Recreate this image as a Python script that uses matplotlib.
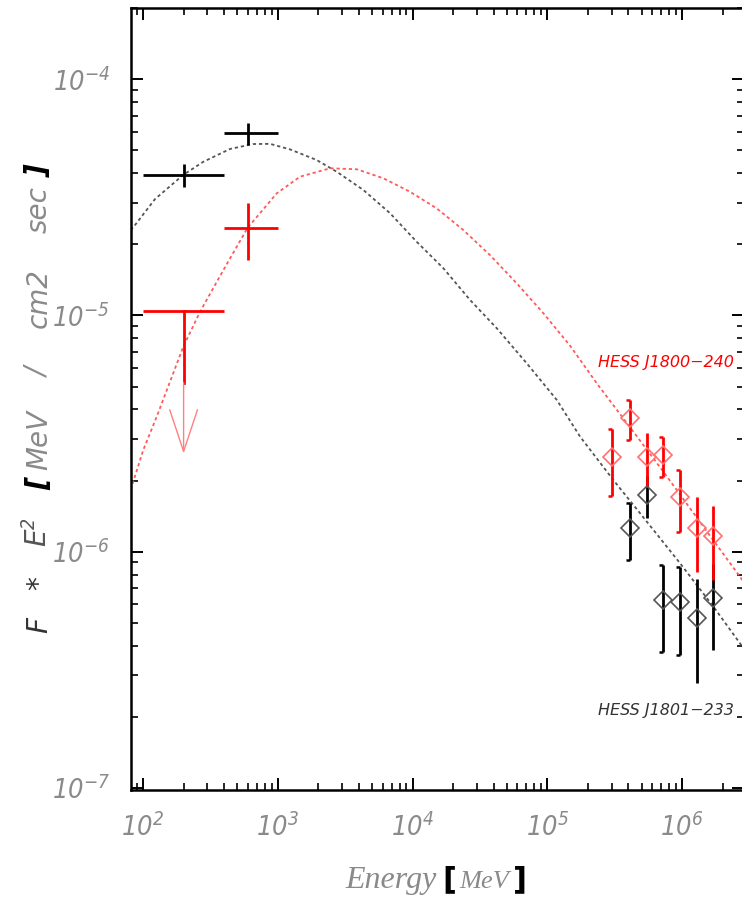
import numpy as np
import matplotlib
matplotlib.use("Agg")
import matplotlib.pyplot as plt
import matplotlib.font_manager as fm
from matplotlib.ft2font import FT2Font
from matplotlib.path import Path
from matplotlib.ticker import LogLocator, FuncFormatter, NullFormatter

# ---------------- data ----------------
# Fermi/LAT-like points (MeV, MeV/cm2/s)
lat_E = [200, 600]
lat_E_lo = [100, 400]
lat_E_hi = [400, 1000]
black_lat_flux = [3.95e-5, 5.9e-5]
black_lat_err = [0.45e-5, 0.65e-5]

red_lat_E = [600]
red_lat_E_lo = [400]
red_lat_E_hi = [1000]
red_lat_flux = [2.35e-5]
red_lat_err = [0.63e-5]

red_ul_E = [200]
red_ul_E_lo = [100]
red_ul_E_hi = [400]
red_ul_flux = [1.04e-5]

# HESS points
hess_E = [3.04e5, 4.11e5, 5.47e5, 7.27e5, 9.66e5, 1.285e6, 1.71e6]
hess_red_flux = [2.52e-6, 3.67e-6, 2.52e-6, 2.57e-6, 1.71e-6, 1.26e-6, 1.16e-6]
hess_red_err = [0.80e-6, 0.70e-6, 0.65e-6, 0.50e-6, 0.50e-6, 0.44e-6, 0.40e-6]
hess_black_E = [4.11e5, 5.47e5, 7.27e5, 9.66e5, 1.285e6, 1.71e6]
hess_black_flux = [1.26e-6, 1.74e-6, 6.25e-7, 6.14e-7, 5.22e-7, 6.35e-7]
hess_black_err = [0.34e-6, 0.35e-6, 2.5e-7, 2.5e-7, 2.45e-7, 2.5e-7]
hess_capped_E = [3.04e5, 4.11e5, 7.27e5, 9.66e5]

# model curves
model_black_E = [81, 87.2, 122.7, 198, 279, 442, 655, 876, 1233, 1946, 2739, 4314,
                 6808, 10745, 16930, 26710, 42150, 70400, 117500, 175000, 309000,
                 547000, 966000, 1.708e6, 2.69e6, 2.88e6]
model_black_F = [2.30e-5, 2.415e-5, 3.11e-5, 3.93e-5, 4.47e-5, 5.07e-5, 5.32e-5, 5.33e-5,
                 5.05e-5, 4.55e-5, 4.06e-5, 3.40e-5, 2.71e-5, 2.05e-5, 1.585e-5,
                 1.163e-5, 8.83e-6, 6.27e-6, 4.39e-6, 3.07e-6, 2.01e-6, 1.34e-6,
                 8.93e-7, 5.85e-7, 4.09e-7, 3.87e-7]
model_red_E = [81, 100.5, 126.4, 199, 265, 418, 598, 982, 1463, 2442, 3854, 6072,
               9580, 15120, 23820, 37590, 59330, 93470, 147500, 232800, 435100,
               726500, 1.708e6, 2.69e6, 2.88e6]
model_red_F = [1.83e-6, 2.70e-6, 3.73e-6, 7.38e-6, 1.038e-5, 1.65e-5, 2.353e-5, 3.29e-5,
               3.87e-5, 4.20e-5, 4.16e-5, 3.81e-5, 3.34e-5, 2.84e-5, 2.30e-5, 1.80e-5,
               1.368e-5, 1.022e-5, 7.45e-6, 5.16e-6, 3.22e-6, 2.18e-6, 1.116e-6,
               7.83e-7, 7.4e-7]

label_red = "HESS J1800\u2212240"
label_black = "HESS J1801\u2212233"

# ---------------- fonts ----------------
entries = fm.fontManager.ttflist
def is_narrow(f):
    return (str(f.stretch) in ("condensed", "semi-condensed", "extra-condensed")
            or "Condensed" in f.name or "Narrow" in f.name)
cands = [f for f in entries if f.style in ("italic", "oblique")
         and "Mono" not in f.name and "CJK" not in f.name and "Serif" not in f.name
         and str(f.weight) in ("400", "normal", "regular", "book")]
narrow = [f for f in cands if is_narrow(f)]
narrow.sort(key=lambda f: ("Liberation" not in f.name, "DejaVu" not in f.name))
lib = [f for f in cands if f.name == "Liberation Sans"]
chosen = narrow[0] if narrow else (lib[0] if lib else None)

if chosen is not None:
    tick_path = chosen.fname
else:
    tick_path = fm.findfont(fm.FontProperties(family="DejaVu Sans", style="italic"))
tick_pattern = fm.FontProperties(fname=tick_path).get_fontconfig_pattern()

# size so that "10" is ~31 px wide
ft = FT2Font(tick_path)
ft.set_size(100, 72)
adv = 0.0
for ch in "10":
    g = ft.load_char(ord(ch))
    adv += g.linearHoriAdvance / 65536.0 / 100.0
tick_size = min(24.0, 31.0 / adv * 72.0 / 100.0)

plt.rcParams["mathtext.fontset"] = "custom"
plt.rcParams["mathtext.rm"] = tick_pattern
plt.rcParams["mathtext.it"] = tick_pattern
plt.rcParams["mathtext.sf"] = tick_pattern
plt.rcParams["mathtext.default"] = "rm"

GRAY = "#8a8a8a"

W, H, DPI = 742, 899, 100
fig = plt.figure(figsize=(W / DPI, H / DPI), dpi=DPI)
L, R, B, T = 130.7, 744.0, 790.0, 7.5
ax = fig.add_axes([L / W, 1 - B / H, (R - L) / W, (B - T) / H])
ax.set_xscale("log")
ax.set_yscale("log")
ax.set_xlim(81.0, 2.88e6)
ax.set_ylim(9.79e-8, 2.014e-4)

for s in ax.spines.values():
    s.set_linewidth(1.8)
ax.tick_params(which="both", direction="in", top=True, right=True, colors="black",
               labelcolor=GRAY, labelsize=tick_size)
ax.tick_params(which="major", length=8.8, width=1.4, pad=15)
ax.tick_params(axis="x", which="major", pad=17)
ax.tick_params(which="minor", length=5.0, width=1.2)
ax.xaxis.set_major_locator(LogLocator(base=10, numticks=20))
ax.yaxis.set_major_locator(LogLocator(base=10, numticks=20))
ax.xaxis.set_minor_locator(LogLocator(base=10, subs=np.arange(2, 10), numticks=20))
ax.yaxis.set_minor_locator(LogLocator(base=10, subs=np.arange(2, 10), numticks=20))
fmt = FuncFormatter(lambda v, p: r"$10^{%d}$" % int(round(np.log10(v))))
ax.xaxis.set_major_formatter(fmt)
ax.yaxis.set_major_formatter(fmt)
ax.xaxis.set_minor_formatter(NullFormatter())
ax.yaxis.set_minor_formatter(NullFormatter())

# model curves
ax.plot(model_black_E, model_black_F, color="#555555", lw=1.3,
        linestyle=(0, (1.8, 1.6)), zorder=2)
ax.plot(model_red_E, model_red_F, color="#ff5a5a", lw=1.3,
        linestyle=(0, (1.8, 1.6)), zorder=2)

# LAT crosses
def xerr_of(E, lo, hi):
    E = np.array(E); return [E - np.array(lo), np.array(hi) - E]

ax.errorbar(lat_E, black_lat_flux, xerr=xerr_of(lat_E, lat_E_lo, lat_E_hi),
            yerr=black_lat_err, fmt="none", ecolor="black", elinewidth=2.0, capsize=0, zorder=4)
ax.errorbar(red_lat_E, red_lat_flux, xerr=xerr_of(red_lat_E, red_lat_E_lo, red_lat_E_hi),
            yerr=red_lat_err, fmt="none", ecolor="red", elinewidth=2.0, capsize=0, zorder=4)

# upper limit
ul = np.array(red_ul_flux)
ax.errorbar(red_ul_E, ul, xerr=xerr_of(red_ul_E, red_ul_E_lo, red_ul_E_hi),
            fmt="none", ecolor="red", elinewidth=2.0, capsize=0, zorder=4)
for e, u in zip(red_ul_E, ul):
    ax.plot([e, e], [u, u / 2], color="red", lw=2.0, zorder=4)
    ax.annotate("", xy=(e, u / 4), xytext=(e, u / 2),
                arrowprops=dict(arrowstyle="->,head_length=3.0,head_width=1.0",
                                color="#ff8080", lw=1.0, shrinkA=0, shrinkB=0,
                                mutation_scale=10), zorder=4)

# HESS points
cap_marker = Path([(-1, 0), (0, 0)], [Path.MOVETO, Path.LINETO])

def hess(E, F, err, color, dcolor):
    E = np.array(E); F = np.array(F); err = np.array(err)
    ax.errorbar(E, F, yerr=err, fmt="none", ecolor=color, elinewidth=2.0, capsize=0, zorder=5)
    m = np.isin(E, hess_capped_E)
    ax.plot(E[m], (F + err)[m], ls="none", marker=cap_marker, ms=6, mew=1.8,
            color=color, zorder=5)
    ax.plot(E[m], (F - err)[m], ls="none", marker=cap_marker, ms=6, mew=1.8,
            color=color, zorder=5)
    ax.plot(E, F, ls="none", marker="D", ms=9.3, mfc="none", mec=dcolor, mew=1.2, zorder=6)

hess(hess_black_E, hess_black_flux, hess_black_err, "black", "#555555")
hess(hess_E, hess_red_flux, hess_red_err, "red", "#ff7070")

# source labels
def fx(x): return x / W
def fy(y): return 1 - y / H

fig.text(fx(598), fy(362), label_red, color="red", fontsize=11.5, style="italic",
         family="DejaVu Sans", ha="left", va="center")
fig.text(fx(598), fy(711), label_black, color="#333333", fontsize=11.5, style="italic",
         family="DejaVu Sans", ha="left", va="center")

# y label pieces
ylab = [("]", 171, "black", "bold"), ("sec", 210, GRAY, "normal"), ("cm2", 298, GRAY, "normal"),
        ("/", 373, GRAY, "normal"), ("MeV", 440, GRAY, "normal"), ("[", 484, "black", "bold"),
        ("E$^{2}$", 532, "#555555", "normal"), ("*", 583, "#333333", "normal"),
        ("F", 625, "#333333", "normal")]
for t, y, c, w in ylab:
    fig.text(fx(47), fy(y), t, rotation=90, rotation_mode="anchor", ha="center",
             va="baseline", color=c, fontsize=20, style="italic", weight=w,
             family="DejaVu Sans")

# x label pieces
fig.text(fx(391), fy(888), "Energy", color=GRAY, fontsize=23, style="italic",
         family="Liberation Serif", ha="center", va="baseline")
fig.text(fx(449), fy(888), "[", color="black", fontsize=22, weight="bold",
         family="DejaVu Sans", ha="center", va="baseline")
fig.text(fx(484), fy(888), "MeV", color=GRAY, fontsize=19, style="italic",
         family="Liberation Serif", ha="center", va="baseline")
fig.text(fx(520), fy(888), "]", color="black", fontsize=22, weight="bold",
         family="DejaVu Sans", ha="center", va="baseline")

fig.savefig("out.png", dpi=DPI)
